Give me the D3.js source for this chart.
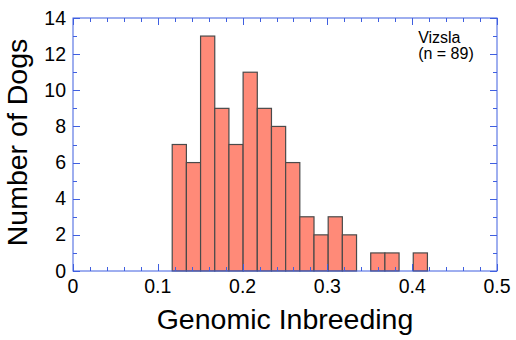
<!DOCTYPE html>
<html>
<head>
<meta charset="utf-8">
<script src="https://cdn.jsdelivr.net/npm/d3@7"></script>
<style>
  body { margin: 0; background: #fff; }
  text { font-family: "Liberation Sans", Arial, sans-serif; fill: #000; }
</style>
</head>
<body>
<svg id="chart" width="516" height="340"></svg>
<script>
// histogram of genomic inbreeding, Vizsla
var binStart = 0.117, binWidth = 0.01672;
var counts = [7, 6, 13, 9, 7, 11, 9, 8, 6, 3, 2, 3, 2, 0, 1, 1, 0, 1];
var xTicks = [0, 0.1, 0.2, 0.3, 0.4, 0.5];
var yTicks = [0, 2, 4, 6, 8, 10, 12, 14];
var breed = "Vizsla", nDogs = 89;

var axisColor = "#3f5fe0";
var barFill = "#ff8a78";
var barStroke = "#4a4a4a";

var margin = {top: 18, right: 19, bottom: 69, left: 73},
    width = 516 - margin.left - margin.right,
    height = 340 - margin.top - margin.bottom;

var svg = d3.select("#chart");
var g = svg.append("g")
    .attr("transform", "translate(" + margin.left + "," + margin.top + ")");

var x = d3.scaleLinear().domain([0, 0.5]).range([0, width]);
var y = d3.scaleLinear().domain([0, 14]).range([height, 0]);

var bins = counts.map(function(c, i) {
    return {x0: binStart + i * binWidth, x1: binStart + (i + 1) * binWidth, n: c};
});

g.selectAll("rect.bar")
    .data(bins.filter(function(d) { return d.n > 0; }))
    .enter().append("rect")
    .attr("class", "bar")
    .attr("x", function(d) { return x(d.x0); })
    .attr("width", function(d) { return x(d.x1) - x(d.x0); })
    .attr("y", function(d) { return y(d.n); })
    .attr("height", function(d) { return y(0) - y(d.n); })
    .attr("fill", barFill)
    .attr("stroke", barStroke)
    .attr("stroke-width", 1.2);

// frame
g.append("rect")
    .attr("width", width).attr("height", height)
    .attr("fill", "none")
    .attr("stroke", axisColor)
    .attr("stroke-width", 1);

// inward ticks on all four sides
var xMinor = d3.range(0, 0.5001, 0.02);
var yMinor = d3.range(0, 14.001, 1);
var ticks = g.append("g").attr("stroke", axisColor).attr("stroke-width", 1);

xMinor.forEach(function(v) {
    var major = xTicks.some(function(t) { return Math.abs(t - v) < 1e-6; });
    var len = major ? 7 : 4;
    var px = Math.round(x(v)) + 0.5;
    ticks.append("line").attr("x1", px).attr("x2", px).attr("y1", height).attr("y2", height - len);
    ticks.append("line").attr("x1", px).attr("x2", px).attr("y1", 0).attr("y2", len);
});
yMinor.forEach(function(v) {
    var major = yTicks.indexOf(v) >= 0;
    var len = major ? 7 : 4;
    var py = Math.round(y(v)) + 0.5;
    ticks.append("line").attr("x1", 0).attr("x2", len).attr("y1", py).attr("y2", py);
    ticks.append("line").attr("x1", width).attr("x2", width - len).attr("y1", py).attr("y2", py);
});

// tick labels
g.selectAll("text.xt")
    .data(xTicks)
    .enter().append("text")
    .attr("class", "xt")
    .attr("x", function(d) { return x(d); })
    .attr("y", height + 22)
    .attr("text-anchor", "middle")
    .style("font-size", "19.5px")
    .text(function(d) { return d; });

g.selectAll("text.yt")
    .data(yTicks)
    .enter().append("text")
    .attr("class", "yt")
    .attr("x", -7)
    .attr("y", function(d) { return y(d) + 6.5; })
    .attr("text-anchor", "end")
    .style("font-size", "19.5px")
    .text(function(d) { return d; });

// axis titles
g.append("text")
    .attr("x", width / 2)
    .attr("y", height + 58)
    .attr("text-anchor", "middle")
    .style("font-size", "28.5px")
    .text("Genomic Inbreeding");

g.append("text")
    .attr("transform", "translate(" + (-46) + "," + (height / 2 - 2) + ")rotate(-90)")
    .attr("text-anchor", "middle")
    .style("font-size", "28.5px")
    .text("Number of Dogs");

// legend
var leg = g.append("text")
    .attr("x", x(0.407))
    .attr("y", 25)
    .style("font-size", "16px");
leg.append("tspan").text(breed);
leg.append("tspan").attr("x", x(0.407)).attr("dy", 16).text("(n = " + nDogs + ")");
</script>
</body>
</html>
